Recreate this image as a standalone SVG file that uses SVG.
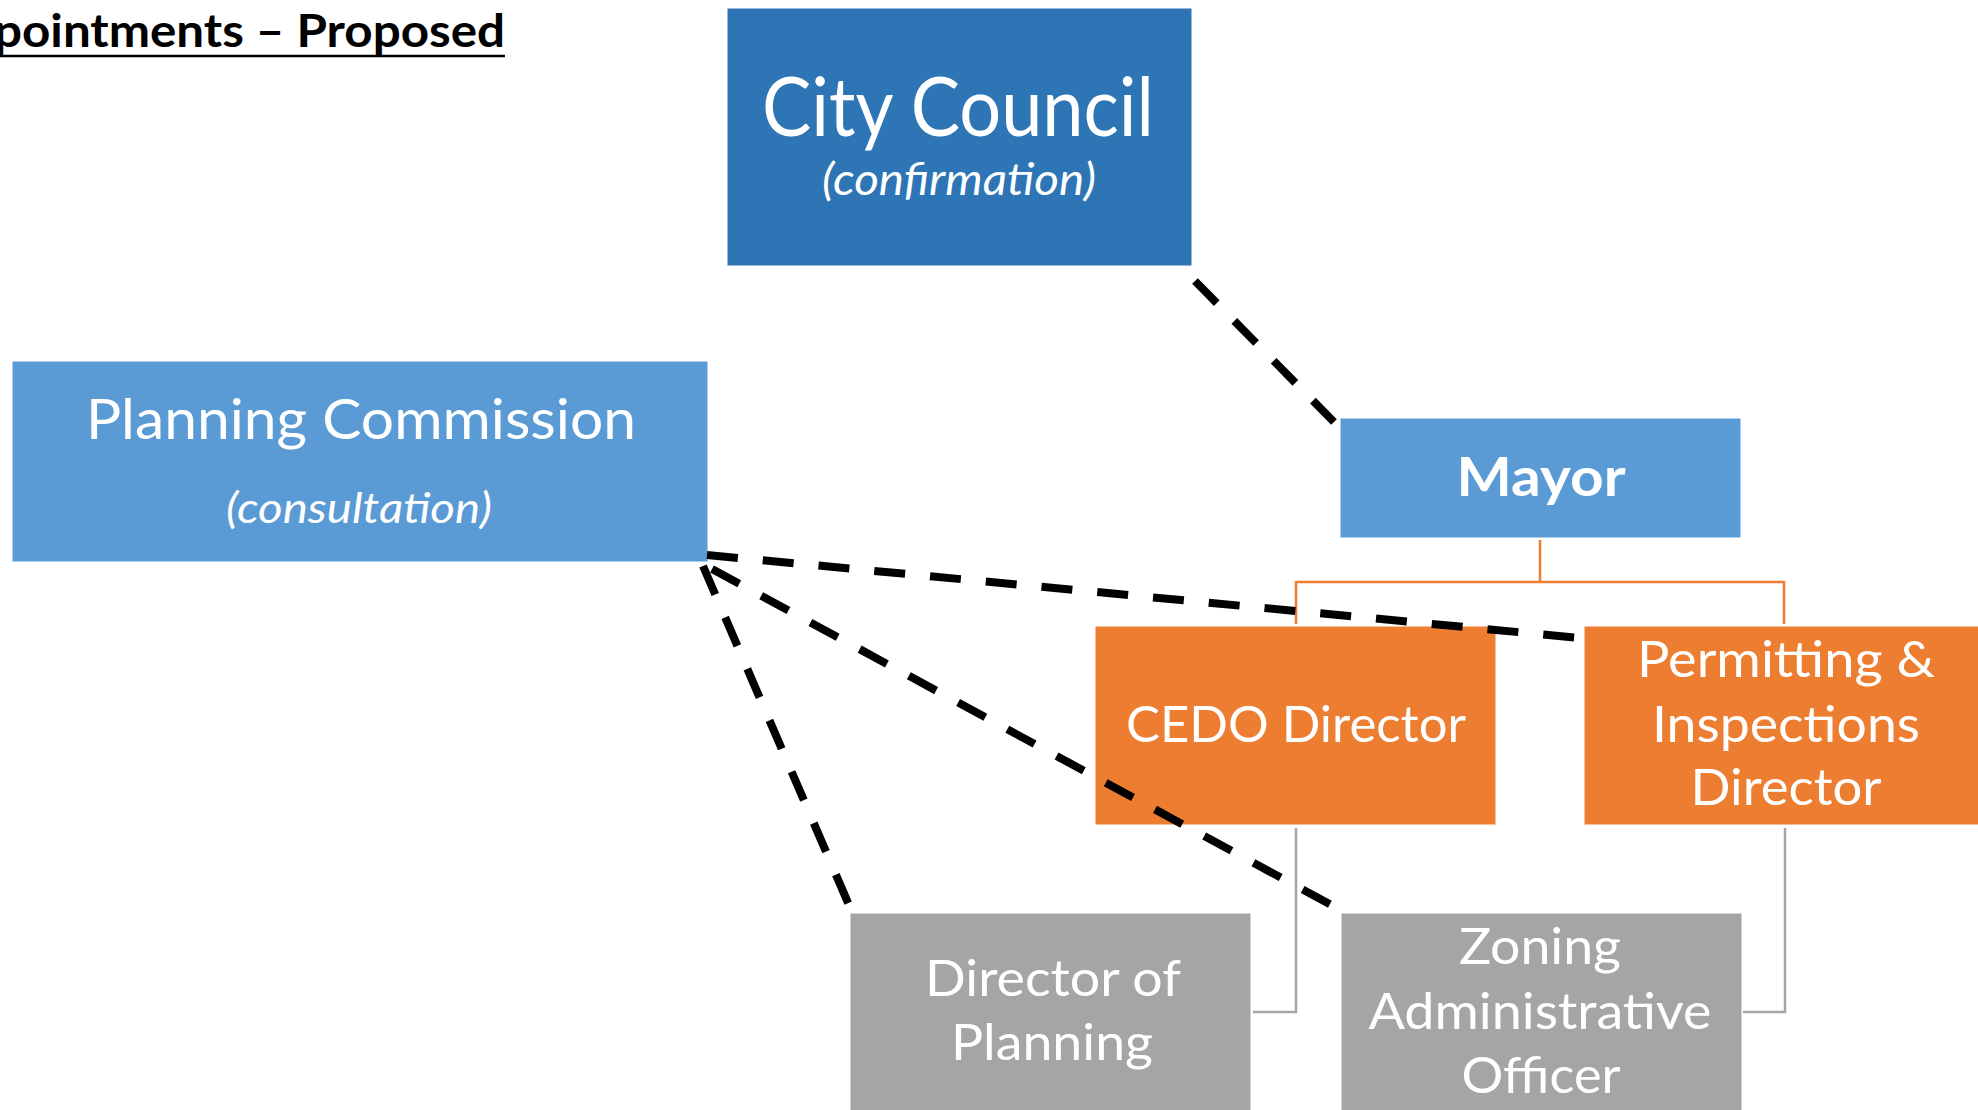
<svg xmlns="http://www.w3.org/2000/svg" width="1978" height="1110" viewBox="0 0 1978 1110">
<style>
.t{font-family:Lato,"Open Sans","Liberation Sans",sans-serif;fill:#FFFFFF;text-anchor:middle}
.i{font-style:italic}
.b{font-weight:bold}
.dash{fill:none;stroke:#000000;stroke-width:8;stroke-dasharray:31 25}
.org{fill:none;stroke:#ED7D31;stroke-width:2.5}
.gry{fill:none;stroke:#A5A5A5;stroke-width:2.5}
.box{stroke:#FFFFFF;stroke-width:1}
</style>
<rect width="1978" height="1110" fill="#FFFFFF"/>
<g id="title">
<text x="-6" y="47" font-family="Lato,'Open Sans','Liberation Sans',sans-serif" font-weight="bold" font-size="45" fill="#000000" textLength="511" lengthAdjust="spacingAndGlyphs">pointments – Proposed</text>
<line x1="0" y1="56" x2="505" y2="56" stroke="#000000" stroke-width="2.5"/>
</g>
<g id="city-council">
<rect class="box" x="727" y="8" width="465" height="258" fill="#2E75B6"/>
<text class="t" x="958" y="136" font-size="81" textLength="392" lengthAdjust="spacingAndGlyphs">City Council</text>
<text class="t i" x="959" y="195" font-size="44" textLength="274" lengthAdjust="spacingAndGlyphs">(confirmation)</text>
</g>
<g id="planning-commission">
<rect class="box" x="12" y="361" width="696" height="201" fill="#5B9BD5"/>
<text class="t" x="361" y="439" font-size="56" textLength="550" lengthAdjust="spacingAndGlyphs">Planning Commission</text>
<text class="t i" x="359" y="523" font-size="43" textLength="266" lengthAdjust="spacingAndGlyphs">(consultation)</text>
</g>
<g id="mayor">
<rect class="box" x="1340" y="418" width="401" height="120" fill="#5B9BD5"/>
<text class="t b" x="1541" y="496" font-size="54" textLength="169" lengthAdjust="spacingAndGlyphs">Mayor</text>
</g>
<g id="cedo-director">
<rect class="box" x="1095" y="626" width="401" height="199" fill="#ED7D31"/>
<text class="t" x="1296" y="742" font-size="51" textLength="340" lengthAdjust="spacingAndGlyphs">CEDO Director</text>
</g>
<g id="permitting-director">
<rect class="box" x="1584" y="626" width="401" height="199" fill="#ED7D31"/>
<text class="t" x="1786" y="677" font-size="51" textLength="298" lengthAdjust="spacingAndGlyphs">Permitting &amp;</text>
<text class="t" x="1786" y="742" font-size="51" textLength="268" lengthAdjust="spacingAndGlyphs">Inspections</text>
<text class="t" x="1786" y="805" font-size="51" textLength="191" lengthAdjust="spacingAndGlyphs">Director</text>
</g>
<g id="director-of-planning">
<rect class="box" x="850" y="913" width="401" height="199" fill="#A5A5A5"/>
<text class="t" x="1053" y="996" font-size="50" textLength="256" lengthAdjust="spacingAndGlyphs">Director of</text>
<text class="t" x="1052" y="1060" font-size="50" textLength="202" lengthAdjust="spacingAndGlyphs">Planning</text>
</g>
<g id="zoning-administrative-officer">
<rect class="box" x="1341" y="913" width="401" height="199" fill="#A5A5A5"/>
<text class="t" x="1540" y="964" font-size="51" textLength="162" lengthAdjust="spacingAndGlyphs">Zoning</text>
<text class="t" x="1540" y="1029" font-size="51" textLength="343" lengthAdjust="spacingAndGlyphs">Administrative</text>
<text class="t" x="1541" y="1093" font-size="51" textLength="159" lengthAdjust="spacingAndGlyphs">Officer</text>
</g>
<g id="connectors">
<path class="org" d="M1540,540 V582 M1296,582 H1784 M1296,581 V624 M1784,581 V624"/>
<path class="gry" d="M1296,828 V1012 H1253"/>
<path class="gry" d="M1785,828 V1012 H1743"/>
<line class="dash" x1="1195" y1="281" x2="1334" y2="422"/>
<line class="dash" x1="707" y1="555" x2="1580" y2="638"/>
<line class="dash" x1="712" y1="569" x2="1346" y2="913"/>
<line class="dash" x1="703" y1="566" x2="852" y2="912"/>
</g>
</svg>
